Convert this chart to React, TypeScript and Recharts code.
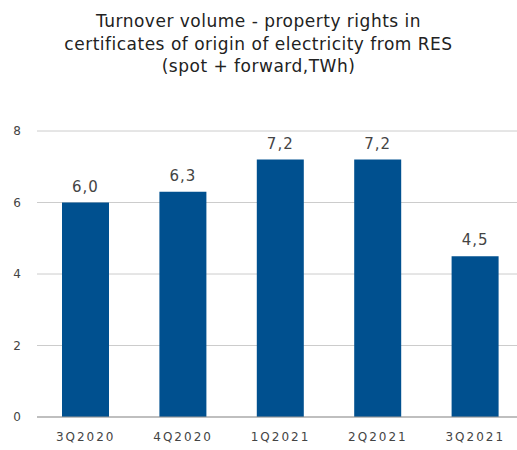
import React from 'react';
import {BarChart, Bar, XAxis, YAxis, CartesianGrid, LabelList} from 'recharts';

const quarters = ['3Q2020', '4Q2020', '1Q2021', '2Q2021', '3Q2021'];
const volumes = [6.0, 6.3, 7.2, 7.2, 4.5];
const yTicks = [0, 2, 4, 6, 8];

const data = quarters.map((q, i) => ({quarter: q, volume: volumes[i]}));

const font = '"DejaVu Sans", Verdana, sans-serif';

const App = () => {
    return (
        <div style={{position: 'absolute', left: 0, top: 0, width: 517, height: 450, overflow: 'hidden', background: '#fff'}}>
            <div style={{
                position: 'absolute', top: 10, left: 0, width: 517, textAlign: 'center',
                fontFamily: font, fontSize: 17, lineHeight: '22.5px', color: '#222', letterSpacing: 0.5
            }}>
                Turnover volume - property rights in<br/>
                certificates of origin of electricity from RES<br/>
                (spot + forward,TWh)
            </div>
            <BarChart
                width={524}
                height={450}
                data={data}
                margin={{top: 131, right: 0, left: 0, bottom: 0}}
            >
                <CartesianGrid vertical={false} stroke="#cccccc" />
                <XAxis
                    dataKey="quarter"
                    height={33}
                    tickLine={false}
                    stroke="#999"
                    tickMargin={9}
                    tick={{fontSize: 12, fill: '#444', fontFamily: font, letterSpacing: 2}}
                />
                <YAxis
                    width={37}
                    domain={[0, 8]}
                    ticks={yTicks}
                    axisLine={false}
                    tickLine={false}
                    tickMargin={10}
                    tick={{fontSize: 12, fill: '#444', fontFamily: font}}
                />
                <Bar dataKey="volume" fill="#00508f" barSize={47} isAnimationActive={false}>
                    <LabelList
                        dataKey="volume"
                        position="top"
                        offset={11}
                        formatter={(v) => Number(v).toFixed(1).replace('.', ',')}
                        style={{fontSize: 15, fill: '#444', fontFamily: font, letterSpacing: 1}}
                    />
                </Bar>
            </BarChart>
        </div>
    );
}

export default App
